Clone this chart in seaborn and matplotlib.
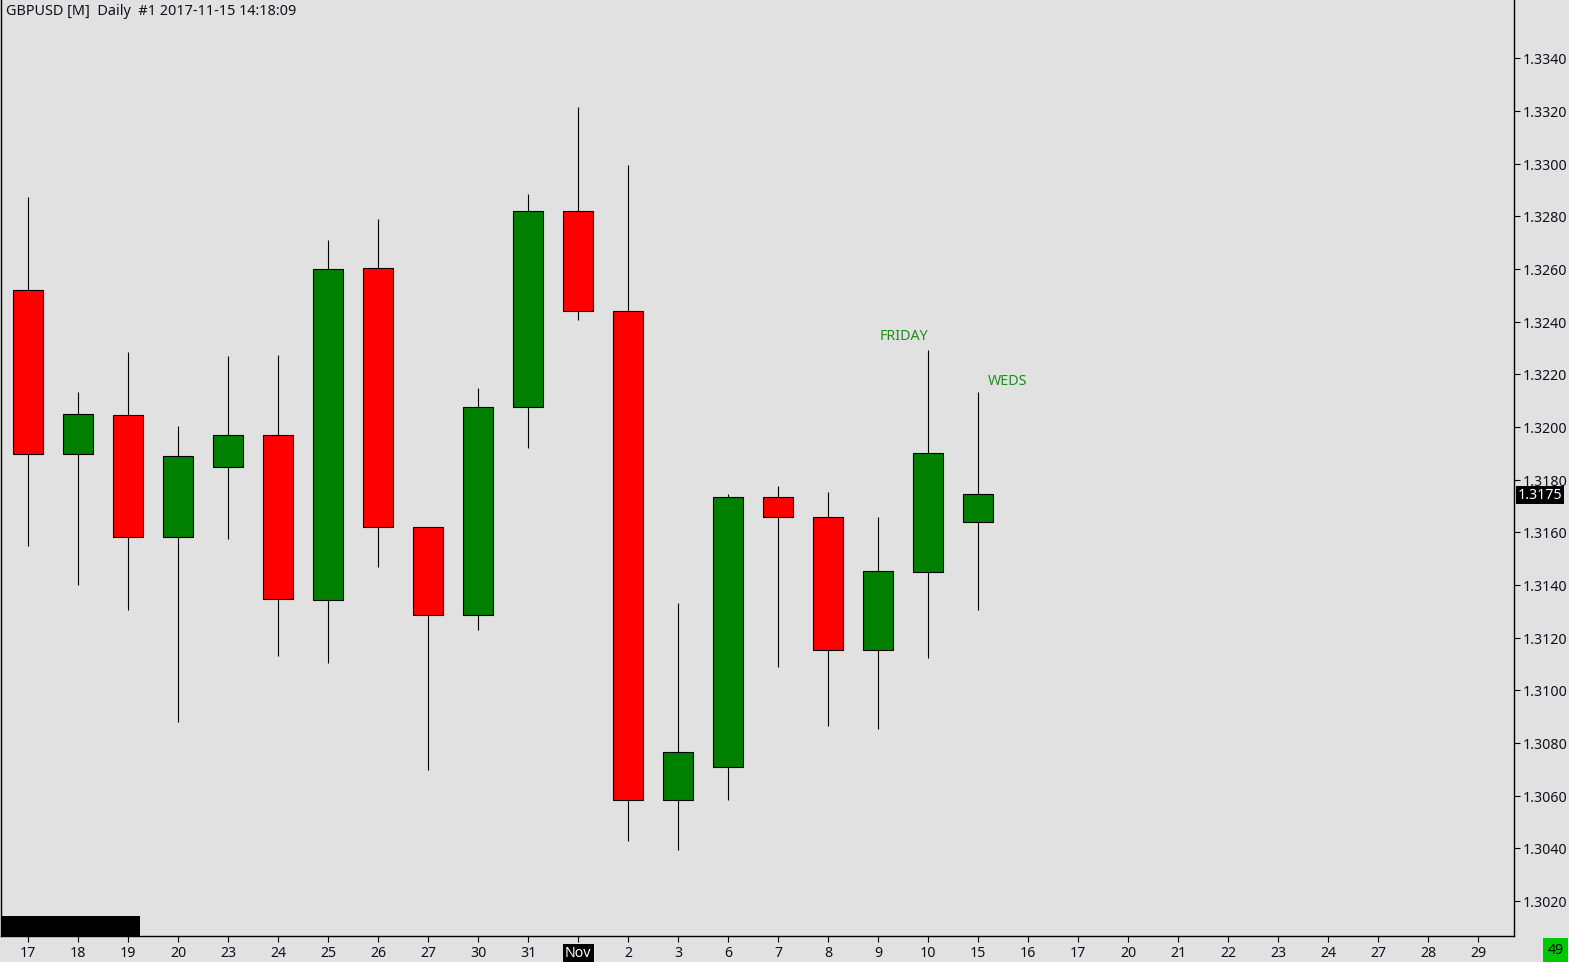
import matplotlib
matplotlib.use("Agg")
import matplotlib.pyplot as plt
import seaborn as sns
import pandas as pd
import numpy as np
from matplotlib.patches import Rectangle
from matplotlib.transforms import blended_transform_factory, offset_copy

# ---- data ----
tick_labels = ["17", "18", "19", "20", "23", "24", "25", "26", "27", "30", "31", "Nov",
               "2", "3", "6", "7", "8", "9", "10", "15", "16", "17", "20", "21", "22",
               "23", "24", "27", "28", "29"]
opens  = [1.32522, 1.31899, 1.32047, 1.31583, 1.31849, 1.31971, 1.31344, 1.32606, 1.31621, 1.31287,
          1.32077, 1.32822, 1.32442, 1.30584, 1.30709, 1.31735, 1.31659, 1.31154, 1.31450, 1.31640]
closes = [1.31899, 1.32051, 1.31583, 1.31891, 1.31971, 1.31348, 1.32602, 1.31621, 1.31287, 1.32077,
          1.32822, 1.32442, 1.30584, 1.30766, 1.31735, 1.31659, 1.31154, 1.31454, 1.31903, 1.31747]
highs  = [1.32872, 1.32134, 1.32286, 1.32005, 1.32271, 1.32275, 1.32712, 1.32792, 1.31621, 1.32150,
          1.32887, 1.33214, 1.32997, 1.31333, 1.31747, 1.31777, 1.31754, 1.31659, 1.32294, 1.32134]
lows   = [1.31549, 1.31401, 1.31306, 1.30880, 1.31576, 1.31131, 1.31105, 1.31469, 1.30698, 1.31230,
          1.31922, 1.32408, 1.30428, 1.30394, 1.30584, 1.31089, 1.30865, 1.30854, 1.31124, 1.31306]
y_ticks = [1.3020, 1.3040, 1.3060, 1.3080, 1.3100, 1.3120, 1.3140, 1.3160, 1.3180, 1.3200,
           1.3220, 1.3240, 1.3260, 1.3280, 1.3300, 1.3320, 1.3340]
last_price = 1.3175
title = "GBPUSD [M]  Daily  #1 2017-11-15 14:18:09"
notes = [("FRIDAY", 17.52, 1.32347), ("WEDS", 19.58, 1.32176)]

df = pd.DataFrame({"pos": np.arange(len(opens)), "open": opens, "close": closes,
                   "high": highs, "low": lows})
df["up"] = df["close"] >= df["open"]

# ---- style ----
BG = "#E1E1E1"
sns.set_theme(style="white", rc={"axes.facecolor": BG, "figure.facecolor": BG})
plt.rcParams["font.family"] = ["Noto Sans", "DejaVu Sans"]

W, H = 1569, 962
fig = plt.figure(figsize=(15.695, 9.625), dpi=100)
ax = fig.add_axes([1 / W, 26 / H, 1513 / W, 936 / H])

# wicks
ax.vlines(df["pos"], df["low"], df["high"], color="black", linewidth=0.8, zorder=1)
# bodies
body_bottom = np.minimum(df["open"], df["close"])
body_height = np.abs(df["close"] - df["open"])
colors = np.where(df["up"], "#008000", "#FF0000")
ax.bar(df["pos"], body_height, bottom=body_bottom, width=0.6, color=colors,
       edgecolor="black", linewidth=0.8, zorder=2)

ax.set_xlim(-0.54, 29.72)
ax.set_ylim(1.30067, 1.33624)

ax.set_xticks(np.arange(len(tick_labels)))
ax.set_xticklabels(tick_labels)
ax.yaxis.tick_right()
ax.set_yticks(y_ticks)
ax.set_yticklabels([f"{v:.4f}" for v in y_ticks])
ax.tick_params(axis="both", which="major", direction="out", length=4, width=0.8,
               color="black", labelsize=10.2, labelcolor="#10101a", bottom=True, right=True,
               left=False)
ax.tick_params(axis="x", pad=3)
ax.tick_params(axis="y", pad=2)

for s in ["left", "bottom", "right"]:
    ax.spines[s].set_visible(True)
    ax.spines[s].set_color("black")
    ax.spines[s].set_linewidth(1.0)
ax.spines["top"].set_visible(False)

# highlight Nov label
for lbl in ax.get_xticklabels():
    if lbl.get_text() == "Nov":
        lbl.set_color("white")
        lbl.set_bbox(dict(facecolor="black", edgecolor="none", pad=1.5))

# last price label
trans = offset_copy(blended_transform_factory(ax.transAxes, ax.transData), fig=fig,
                    x=0, y=-2, units="dots")
ax.text(1.0 + 3 / 1513, last_price, f"{last_price:.4f}", transform=trans, color="white",
        fontsize=10.2, va="center", ha="left", zorder=5, clip_on=False,
        bbox=dict(facecolor="black", edgecolor="none", pad=1.2))

# annotations
for txt, x, y in notes:
    ax.text(x, y, txt, color="#1E8C1E", fontsize=10.3, ha="center", va="center")

# title
ax.text(5 / 1513, 1 - 11 / 936, title, transform=ax.transAxes, fontsize=10.4,
        color="#10101a", ha="left", va="center")

# black bar bottom-left
ax.add_patch(Rectangle((0, 0), 139 / 1513, 20 / 936, transform=ax.transAxes,
                       facecolor="black", edgecolor="none", zorder=6, clip_on=False))

# green box bottom-right
fig.text(1555 / W, 1 - 950 / H, "49", fontsize=10.2, ha="center", va="center", color="black",
         bbox=dict(facecolor="#00C800", edgecolor="none", pad=3))

fig.savefig("out.png", dpi=100, facecolor=BG)
